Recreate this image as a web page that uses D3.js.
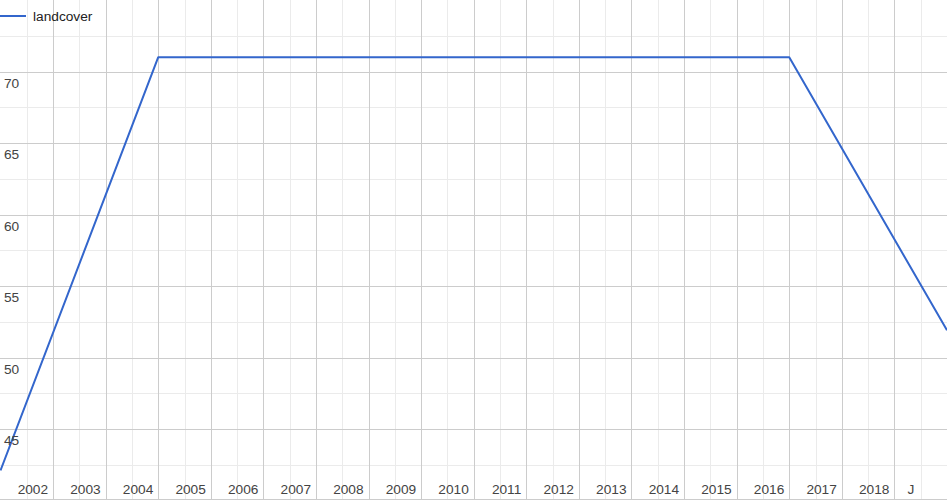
<!DOCTYPE html>
<html>
<head>
<meta charset="utf-8">
<script src="https://cdn.jsdelivr.net/npm/d3@7"></script>
<style>
  html, body { margin: 0; padding: 0; background: #fff; }
  svg { display: block; font-family: Arial, "Liberation Sans", sans-serif; }
</style>
</head>
<body>
<svg id="chart" width="947" height="501"></svg>
<script>
// ---- data ----
const seriesName = "landcover";
const years = [2001, 2004, 2016, 2019];
const values = [42.1, 71.0, 71.0, 51.9];
const xTickYears = [2002, 2003, 2004, 2005, 2006, 2007, 2008, 2009, 2010, 2011, 2012, 2013, 2014, 2015, 2016, 2017, 2018];
const xTickLabels = ["2002", "2003", "2004", "2005", "2006", "2007", "2008", "2009", "2010", "2011", "2012", "2013", "2014", "2015", "2016", "2017", "2018"];
const trailingLabel = "J";
const yTicks = [45, 50, 55, 60, 65, 70];
const yMinorTicks = [42.5, 47.5, 52.5, 57.5, 62.5, 67.5, 72.5];

// ---- layout ----
const W = 947, H = 501;
const svg = d3.select("#chart");
const x = d3.scaleLinear().domain([2001, 2019]).range([0.5, 947]);
const y = d3.scaleLinear().domain([40, 75]).range([500.5, 0]);
const FS = 13.7;

const gGrid = svg.append("g");
// minor vertical gridlines (half years)
const minorX = xTickYears.map(v => v - 0.5).concat([2018.5]);
gGrid.selectAll("line.vminor").data(minorX).join("line")
  .attr("x1", d => Math.round(x(d)) + 0.5).attr("x2", d => Math.round(x(d)) + 0.5)
  .attr("y1", 0).attr("y2", 500)
  .attr("stroke", "#ebebeb").attr("stroke-width", 1);
gGrid.selectAll("line.hminor").data(yMinorTicks).join("line")
  .attr("y1", d => Math.round(y(d)) + 0.5).attr("y2", d => Math.round(y(d)) + 0.5)
  .attr("x1", 0).attr("x2", W)
  .attr("stroke", "#ebebeb").attr("stroke-width", 1);
// major gridlines
gGrid.selectAll("line.vmajor").data(xTickYears).join("line")
  .attr("x1", d => Math.round(x(d)) + 0.5).attr("x2", d => Math.round(x(d)) + 0.5)
  .attr("y1", 0).attr("y2", 500)
  .attr("stroke", "#cccccc").attr("stroke-width", 1);
gGrid.selectAll("line.hmajor").data(yTicks).join("line")
  .attr("y1", d => Math.round(y(d)) + 0.5).attr("y2", d => Math.round(y(d)) + 0.5)
  .attr("x1", 0).attr("x2", W)
  .attr("stroke", "#cccccc").attr("stroke-width", 1);
// baseline
svg.append("line")
  .attr("x1", 0).attr("x2", W).attr("y1", 499.5).attr("y2", 499.5)
  .attr("stroke", "#cccccc").attr("stroke-width", 1);

// ---- line ----
const pts = years.map((yr, i) => [yr, values[i]]);
const line = d3.line().x(d => x(d[0])).y(d => y(d[1]));
svg.append("path")
  .datum(pts)
  .attr("d", line)
  .attr("fill", "none")
  .attr("stroke", "#3366cc")
  .attr("stroke-width", 2)
  .attr("stroke-linejoin", "round");

// ---- y labels ----
svg.append("g").selectAll("text").data(yTicks).join("text")
  .attr("x", 4)
  .attr("y", d => y(d) + 16)
  .attr("font-size", FS)
  .attr("fill", "#444")
  .text(d => d);

// ---- x labels ----
svg.append("g").selectAll("text").data(xTickYears).join("text")
  .attr("x", d => x(d) - 5)
  .attr("y", 494)
  .attr("text-anchor", "end")
  .attr("font-size", FS)
  .attr("fill", "#444")
  .text((d, i) => xTickLabels[i]);
svg.append("text")
  .attr("x", x(2018) + 13)
  .attr("y", 494)
  .attr("font-size", FS)
  .attr("fill", "#444")
  .text(trailingLabel);

// ---- legend ----
svg.append("line")
  .attr("x1", 0).attr("x2", 26).attr("y1", 16).attr("y2", 16)
  .attr("stroke", "#3366cc").attr("stroke-width", 2);
svg.append("text")
  .attr("x", 33).attr("y", 20.5)
  .attr("font-size", FS)
  .attr("fill", "#222")
  .text(seriesName);
</script>
</body>
</html>
